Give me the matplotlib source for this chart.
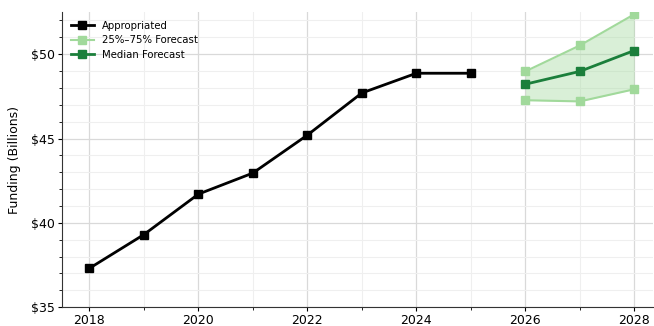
import matplotlib.pyplot as plt
from matplotlib.ticker import MultipleLocator, FuncFormatter

# Appropriated funding by fiscal year (billions)
years_hist = [2018, 2019, 2020, 2021, 2022, 2023, 2024, 2025]
appropriated = [37.3, 39.3, 41.7, 42.95, 45.2, 47.7, 48.87, 48.87]

# Forecast years with quartile band and median
years_fc = [2026, 2027, 2028]
fc_low = [47.27, 47.2, 47.92]
fc_median = [48.22, 48.98, 50.22]
fc_high = [48.98, 50.52, 52.37]

fig, ax = plt.subplots(figsize=(6.54, 3.26), dpi=100)

ax.plot(years_hist, appropriated, color="black", lw=2, marker="s",
        ms=5.5, label="Appropriated", zorder=4)

ax.fill_between(years_fc, fc_low, fc_high, color="#a1d99b",
                alpha=0.4, lw=0, zorder=1)
ax.plot(years_fc, fc_high, color="#a1d99b", lw=1.5, marker="s",
        ms=5.5, label="25%\u201375% Forecast", zorder=2)
ax.plot(years_fc, fc_low, color="#a1d99b", lw=1.5, marker="s",
        ms=5.5, zorder=2)
ax.plot(years_fc, fc_median, color="#1b7f3b", lw=2, marker="s",
        ms=5.5, label="Median Forecast", zorder=3)

ax.set_xlim(2017.5, 2028.35)
ax.set_ylim(35, 52.5)
ax.xaxis.set_major_locator(MultipleLocator(2))
ax.xaxis.set_minor_locator(MultipleLocator(1))
ax.yaxis.set_major_locator(MultipleLocator(5))
ax.yaxis.set_minor_locator(MultipleLocator(1))
ax.yaxis.set_major_formatter(FuncFormatter(lambda v, _: f"${v:.0f}"))

ax.grid(which="major", color="#d9d9d9", lw=0.9)
ax.grid(which="minor", color="#efefef", lw=0.8)
ax.set_axisbelow(True)

for side in ("top", "right"):
    ax.spines[side].set_visible(False)
for side in ("left", "bottom"):
    ax.spines[side].set_color("#333333")

ax.tick_params(which="major", labelsize=9, length=3, pad=2)
ax.tick_params(which="minor", length=2)
ax.set_ylabel("Funding (Billions)", fontsize=9, labelpad=7)

ax.legend(loc="upper left", frameon=False, fontsize=7.3,
          handlelength=2.3, borderaxespad=0.45, labelspacing=0.45)

fig.subplots_adjust(left=0.095, right=0.999, top=0.963, bottom=0.058)
fig.savefig("out.png", dpi=100)
